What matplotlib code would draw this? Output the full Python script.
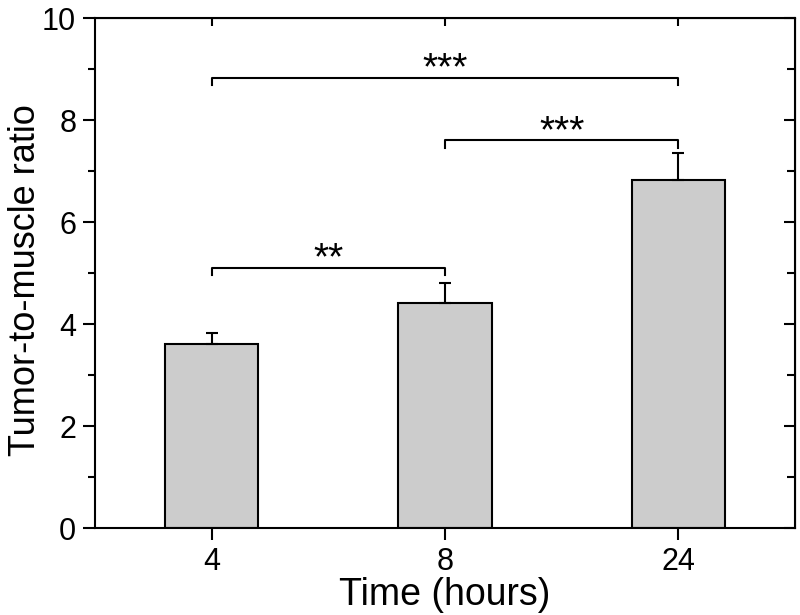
import matplotlib
matplotlib.use("Agg")
import matplotlib.pyplot as plt
from matplotlib.ticker import MultipleLocator

plt.rcParams['font.family'] = ['Liberation Sans', 'DejaVu Sans']

times = ["4", "8", "24"]
ratio = [3.6, 4.41, 6.82]
err = [0.22, 0.39, 0.53]

# significance brackets: (from, to, height, label)
brackets = [(0, 1, 5.1, "**"), (1, 2, 7.6, "***"), (0, 2, 8.82, "***")]

fig = plt.figure(figsize=(8, 6.15), dpi=100)
ax = fig.add_axes([95/800, 1 - 528/615, 700/800, 510/615])

x = list(range(len(times)))
ax.bar(x, ratio, width=0.4, color="#cccccc", edgecolor="black", linewidth=1.5,
       yerr=[[0]*3, err], error_kw=dict(ecolor="black", elinewidth=1.5, capsize=4, capthick=1.5))

for a, b, h, lab in brackets:
    ax.plot([a, a, b, b], [h - 0.14, h, h, h - 0.14], color="black", lw=1.5)
    ax.text((a + b) / 2, h - 0.03, lab, ha="center", va="baseline", fontsize=28)

ax.set_xlim(-0.5, 2.5)
ax.set_ylim(0, 10)
ax.set_xticks(x)
ax.set_xticklabels(times)
ax.yaxis.set_major_locator(MultipleLocator(2))
ax.yaxis.set_minor_locator(MultipleLocator(1))
ax.tick_params(axis="both", labelsize=22, width=1.5, length=8.5, pad=5)
ax.tick_params(axis="y", which="minor", width=1.5, length=5)
for s in ax.spines.values():
    s.set_linewidth(1.5)

# inward ticks on top and right
ax2 = ax.secondary_yaxis("right")
ax2.yaxis.set_major_locator(MultipleLocator(2))
ax2.yaxis.set_minor_locator(MultipleLocator(1))
ax2.tick_params(direction="in", labelright=False, width=1.5, length=8)
ax2.tick_params(which="minor", direction="in", width=1.5, length=6)
ax3 = ax.secondary_xaxis("top")
ax3.set_xticks(x)
ax3.tick_params(direction="in", labeltop=False, width=1.5, length=6)

ax.set_xlabel("Time (hours)", fontsize=27, labelpad=0)
ax.set_ylabel("Tumor-to-muscle ratio", fontsize=26)
ax.yaxis.set_label_coords(-0.074, 0.486)

fig.savefig("out.png", dpi=100)
